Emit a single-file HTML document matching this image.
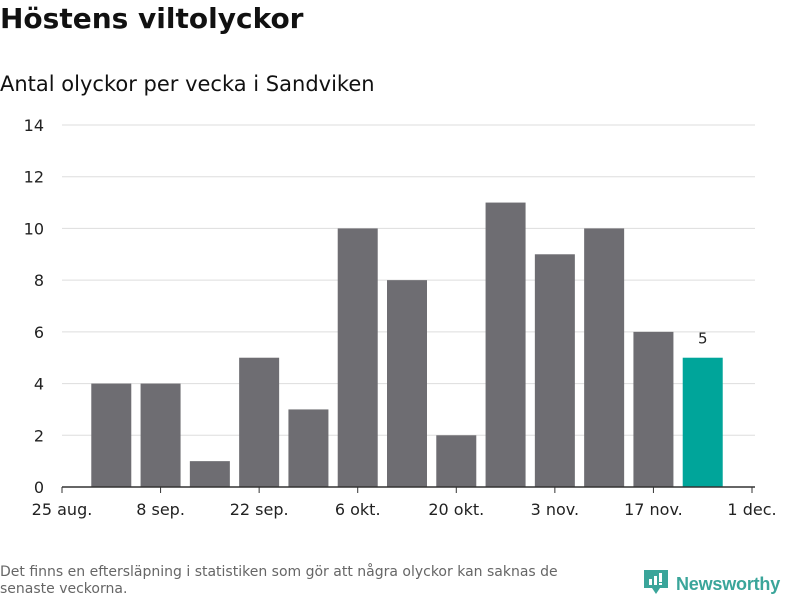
<!DOCTYPE html>
<html><head><meta charset="utf-8"><style>
body{margin:0;background:#fff;font-family:"DejaVu Sans","Liberation Sans",sans-serif;}
#wrap{position:relative;width:800px;height:600px;overflow:hidden;}
h1{position:absolute;left:0;top:2px;margin:0;font-size:28px;font-weight:bold;color:#111;}
h2{position:absolute;left:0;top:72px;margin:0;font-size:21px;font-weight:normal;color:#111;}
.foot{position:absolute;left:0;top:564px;width:600px;font-size:14px;color:#666;line-height:17px;}
.logo{position:absolute;left:644px;top:568px;font-size:18px;color:#3aa59a;font-family:"Liberation Sans",sans-serif;font-weight:bold;white-space:nowrap;width:160px;letter-spacing:-0.2px;}
</style></head><body><div id="wrap">
<h1>Höstens viltolyckor</h1>
<h2>Antal olyckor per vecka i Sandviken</h2>
<svg id="chart" width="800" height="600" style="position:absolute;left:0;top:0"></svg>
<div class="foot">Det finns en eftersläpning i statistiken som gör att några olyckor kan saknas de senaste veckorna.</div>
<div class="logo"><svg width="24" height="28" style="vertical-align:-6px;margin-right:8px"><path d="M0 2h24v18h-8l-4 6-4-6H0z" fill="#3aa59a"/><rect x="5" y="11" width="3" height="6" fill="#fff"/><rect x="10" y="8" width="3" height="9" fill="#fff"/><rect x="15" y="5" width="3" height="9" fill="#fff"/><rect x="15" y="15" width="3" height="2" fill="#fff"/></svg><span>Newsworthy</span></div>
</div>
<script>
const values=[4,4,1,5,3,10,8,2,11,9,10,6,5];
const weekOffsetDays=[7,14,21,28,35,42,49,56,63,70,77,84,91];
const yTicks=[0,2,4,6,8,10,12,14];
const xTickLabels=["25 aug.","8 sep.","22 sep.","6 okt.","20 okt.","3 nov.","17 nov.","1 dec."];
const xTickDays=[0,14,28,42,56,70,84,98];
const NS="http://www.w3.org/2000/svg";
const svg=document.getElementById('chart');
const x0=62,x1=752,y0=487,y1=125;
const xs=d=>x0+(x1-x0)*d/98;
const ys=v=>y0-(y0-y1)*v/14;
function mk(t,a){const e=document.createElementNS(NS,t);for(const k in a)e.setAttribute(k,a[k]);svg.appendChild(e);return e;}
yTicks.forEach(t=>{
 const l=mk('line',{x1:x0,x2:755,y1:ys(t),y2:ys(t),stroke:t?'#ddd':'#333','stroke-width':1});
 
 
 const tx=mk('text',{x:44,y:ys(t)+6,'text-anchor':'end','font-size':16,fill:'#222','font-family':'DejaVu Sans, sans-serif'});
 tx.textContent=t;
 
 
});
values.forEach((v,i)=>{
 const cx=xs(weekOffsetDays[i]);const last=i===values.length-1;
 const r=mk('rect',{x:cx-20,y:ys(v),width:40,height:y0-ys(v),fill:last?'#00a59a':'#6e6d72'});
 
 
 if(last){const t=mk('text',{x:cx,y:ys(v)-14,'text-anchor':'middle','font-size':15,fill:'#222','font-family':'DejaVu Sans, sans-serif'});t.textContent=v;
 
 }
});
mk('line',{x1:x0,x2:755,y1:y0,y2:y0,stroke:'#333','stroke-width':1.5});
xTickDays.forEach((d,i)=>{
 const l=mk('line',{x1:xs(d),x2:xs(d),y1:y0,y2:y0+6,stroke:'#333'});
 
 
 const t=mk('text',{x:xs(d),y:515,'text-anchor':'middle','font-size':16,fill:'#222','font-family':'DejaVu Sans, sans-serif'});
 t.textContent=xTickLabels[i];
 
 
});
</script></body></html>
